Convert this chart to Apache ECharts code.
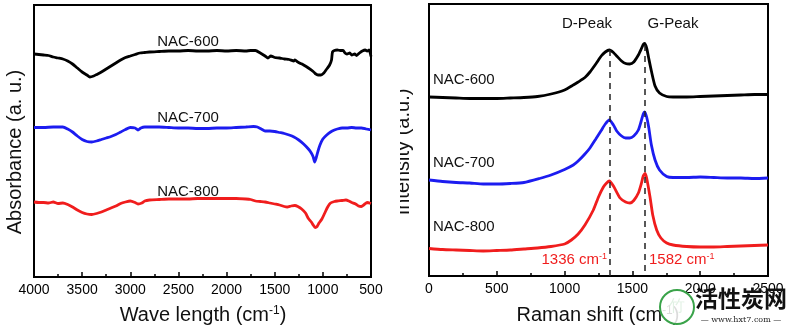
<!DOCTYPE html>
<html>
<head>
<meta charset="utf-8">
<script src="https://cdn.jsdelivr.net/npm/echarts@6/dist/echarts.min.js"></script>
<style>html,body{margin:0;padding:0;background:#fff}#c{width:787px;height:331px}</style>
</head>
<body>
<div id="c"></div>
<script>
// ---------- FTIR (left) : wavenumber (cm-1) and absorbance (a.u., arbitrary offset units)
const ftirWave600 = [4000,3950,3900,3850,3800,3750,3700,3650,3600,3550,3500,3450,3420,3380,3350,3300,3250,3200,3150,3100,3050,3000,2950,2900,2850,2800,2700,2600,2500,2400,2300,2200,2100,2000,1900,1800,1750,1700,1650,1600,1570,1540,1500,1450,1400,1350,1300,1290,1260,1230,1200,1150,1100,1080,1050,1020,990,960,930,910,900,880,850,820,790,770,750,720,700,670,650,620,590,560,540,520,500];
const ftirNAC600 = [223,222.5,222,221.5,220,219,218,216,213,209,205,202,200,201,202.5,205,208,211,214,217,219.5,221,222.5,224,224.5,225,225.5,226,226,226.5,226,226,226.5,226,226.5,226,226.5,226.5,224,221,219,221,219.5,219,218,217.5,216,217,215,213.5,212,209,205.5,203.5,202,202,204,208,212,217,225,226.5,227,226.5,226.5,224,223,224,222,223,221.5,224,226,227,226,227,220.5];

const ftirWave700 = [4000,3900,3800,3700,3650,3600,3550,3500,3450,3400,3350,3300,3250,3200,3150,3100,3050,3000,2950,2920,2890,2850,2800,2700,2600,2500,2400,2300,2200,2100,2000,1900,1800,1720,1680,1640,1600,1550,1500,1450,1400,1350,1300,1250,1200,1150,1120,1100,1085,1070,1050,1030,1000,960,920,880,850,800,750,700,650,600,550,500];
const ftirNAC700 = [149.5,149.5,150,150,148,145,141,137.5,135.5,135,136,137.5,139,140.5,142.5,145,147.5,149.5,149,147,149,150,150,150,149.5,149,149,148.5,148.5,149,149,149.5,150,150.5,150,148,146,146,145.5,144.5,143.5,142,140,137,133,128,124,120,115,119,126,132,138,142,145,147,148,149,149,149.5,149,149,148,147];

const ftirWave800 = [4000,3950,3900,3850,3800,3750,3700,3650,3600,3550,3500,3450,3400,3350,3300,3250,3200,3150,3100,3050,3000,2950,2920,2880,2850,2800,2700,2600,2500,2400,2300,2200,2100,2000,1900,1800,1750,1700,1650,1600,1550,1500,1450,1400,1370,1330,1290,1260,1220,1180,1150,1120,1100,1080,1060,1040,1010,980,950,920,880,850,800,760,730,700,660,630,600,570,540,500];
const ftirNAC800 = [75,74.5,74.5,74,75,73.5,74,72.5,70,67,64.5,63,62.5,63.5,65,67,69,71,73.5,75,76,74.5,73,74,76,77,77.5,78,78,78,78.5,78.5,78.5,78.5,78.5,78,77.5,76,75.5,75,74,73,72,70.5,70,71,71.5,70.5,68,64,58.5,55,52,49.5,50.5,54,58,64,70,74,75.5,76,76.5,77,76,74.5,73,71,70.5,72.5,74.5,73.5];

// ---------- Raman (right) : Raman shift (cm-1) and intensity (a.u., arbitrary offset units)
const ramanShift600 = [0,100,200,300,400,500,600,700,800,900,1000,1064,1100,1150,1187,1230,1270,1300,1330,1360,1384,1420,1450,1480,1510,1544,1565,1580,1590,1605,1620,1640,1667,1700,1753,1800,1900,2000,2100,2200,2300,2400,2500];
const ramanNAC600 = [179,178.5,178,177.5,177.5,177.5,178,178.5,179.5,182,186,191,194,198.5,204,212,220,224,226,223.5,220,215,212.5,212,214,221,227,231.5,232.5,228,218,205,190,183,179.5,179,179,179.5,180,180.5,181,181.5,181.5];

const ramanShift700 = [0,100,200,300,400,500,600,700,815,900,1000,1064,1100,1150,1187,1230,1270,1300,1330,1360,1384,1420,1450,1480,1510,1544,1565,1580,1590,1605,1620,1640,1667,1700,1753,1800,1900,2000,2100,2200,2300,2400,2500];
const ramanNAC700 = [96,94.5,93.5,93,92,92,92.5,93.5,97.5,101,106.5,111,115,122,128,137,145.5,152,156,151,145,140,138,138,140,146,155,162,164,159,149,131,116,106,99.5,98.5,98.5,99,98.5,98,98,97.5,98];

const ramanShift800 = [0,100,200,300,400,500,600,700,800,900,1000,1050,1100,1150,1212,1250,1286,1310,1330,1360,1409,1450,1482,1510,1544,1565,1580,1593,1605,1630,1650,1679,1710,1753,1800,1900,2000,2100,2200,2300,2400,2500];
const ramanNAC800 = [27.5,26.5,26,25.5,25,25.5,26,27,28,29.5,32,36,42,51,66,79,89,93,95,90,78,74,73,75.5,83,92,100,102.5,98,79,61,46,38,33,31,29.5,29,29,29.5,30,30.5,31];

// ---------- annotations
const ftirLabels = ['NAC-600','NAC-700','NAC-800'];
const ramanLabels = ['NAC-600','NAC-700','NAC-800'];
const peakNames = ['D-Peak','G-Peak'];
const peakPositions = [1336, 1590];
const peakTexts = ['1336 cm', '1582 cm'];

const zip = (xs, ys) => xs.map((x, i) => [x, ys[i]]);
const BLACK = '#000000', BLUE = '#1c1cf0', RED = '#f01d1d';
const FONT = 'Liberation Sans, Arial, sans-serif';

const chart = echarts.init(document.getElementById('c'), null, {renderer: 'canvas'});

function xAxisCfg(gridIndex, min, max, inverse) {
  return {
    type: 'value', gridIndex, min, max, interval: 500, inverse,
    axisLine: {show: true, onZero: false, lineStyle: {color: '#000', width: 2}},
    axisTick: {show: true, inside: true, length: 5, lineStyle: {color: '#000', width: 1.5}},
    minorTick: {show: true, splitNumber: 2, length: 3, lineStyle: {color: '#000', width: 1.5}},
    axisLabel: {color: '#000', fontSize: 14, fontFamily: FONT, margin: 6, showMinLabel: true, showMaxLabel: true,
      formatter: v => String(v)},
    splitLine: {show: false}
  };
}
function yAxisCfg(gridIndex) {
  return {
    type: 'value', gridIndex, min: 0, max: 272,
    axisLine: {show: true, lineStyle: {color: '#000', width: 2}},
    axisTick: {show: false}, axisLabel: {show: false}, splitLine: {show: false}
  };
}
function lineSeries(xi, data, color) {
  return {type: 'line', xAxisIndex: xi, yAxisIndex: xi, data, showSymbol: false, symbol: 'none',
    smooth: 0.2, lineStyle: {color, width: 2.8}, animation: false, z: 3};
}
function txt(x, y, text, color, size, align) {
  return {type: 'text', x, y, z: 10, style: {text, fill: color, font: size + 'px ' + FONT,
    textAlign: align || 'center', textVerticalAlign: 'middle'}};
}
function supTxt(x, y, main, color, size, tail, align) {
  return {type: 'text', x, y, z: 10, style: {
    text: '{a|' + main + '}{s|-1}' + (tail ? '{a|' + tail + '}' : ''),
    align: align || 'center', verticalAlign: 'middle',
    rich: {a: {fontSize: size, fontFamily: FONT, fill: color, color: color},
           s: {fontSize: Math.round(size * 0.6), fontFamily: FONT, fill: color, color: color, verticalAlign: 'top'}}
  }};
}

const dashed = {
  silent: true, symbol: 'none', animation: false,
  lineStyle: {color: '#222', type: [6, 5], width: 1.5},
  label: {show: false},
  data: [
    [{coord: [peakPositions[0], 226]}, {coord: [peakPositions[0], 0]}],
    [{coord: [peakPositions[1], 231]}, {coord: [peakPositions[1], 0]}]
  ]
};

const s600r = lineSeries(1, zip(ramanShift600, ramanNAC600), BLACK);
s600r.markLine = dashed;

chart.setOption({
  backgroundColor: '#fff',
  animation: false,
  grid: [
    {left: 34, top: 5, width: 337, height: 272, show: true, borderColor: '#000', borderWidth: 2, backgroundColor: 'transparent'},
    {left: 429, top: 4, width: 339, height: 272, show: true, borderColor: '#000', borderWidth: 2, backgroundColor: 'transparent'}
  ],
  xAxis: [xAxisCfg(0, 500, 4000, true), xAxisCfg(1, 0, 2500, false)],
  yAxis: [yAxisCfg(0), yAxisCfg(1)],
  series: [
    lineSeries(0, zip(ftirWave600, ftirNAC600), BLACK),
    lineSeries(0, zip(ftirWave700, ftirNAC700), BLUE),
    lineSeries(0, zip(ftirWave800, ftirNAC800), RED),
    s600r,
    lineSeries(1, zip(ramanShift700, ramanNAC700), BLUE),
    lineSeries(1, zip(ramanShift800, ramanNAC800), RED)
  ],
  graphic: [
    txt(188, 42, ftirLabels[0], '#111', 15),
    txt(188, 118, ftirLabels[1], '#111', 15),
    txt(188, 192, ftirLabels[2], '#111', 15),
    txt(433, 80, ramanLabels[0], '#111', 15, 'left'),
    txt(433, 163, ramanLabels[1], '#111', 15, 'left'),
    txt(433, 227, ramanLabels[2], '#111', 15, 'left'),
    txt(587, 24, peakNames[0], '#111', 15),
    txt(673, 24, peakNames[1], '#111', 15),
    supTxt(607, 260, peakTexts[0], RED, 15, '', 'right'),
    supTxt(649, 260, peakTexts[1], RED, 15, '', 'left'),
    supTxt(203, 315, 'Wave length (cm', '#111', 20, ')'),
    supTxt(598, 315, 'Raman shift (cm', '#111', 20, ')'),
    {type: 'text', x: 15, y: 152, rotation: Math.PI / 2, z: 10,
      style: {text: 'Absorbance (a. u.)', fill: '#111', font: '20px ' + FONT, textAlign: 'center', textVerticalAlign: 'middle'}},
    {type: 'text', x: 403, y: 152, rotation: Math.PI / 2, z: 10,
      style: {text: 'Intensity (a.u.)', fill: '#111', font: '20px ' + FONT, textAlign: 'center', textVerticalAlign: 'middle'}},
    {type: 'rect', shape: {x: 386, y: 0, width: 14, height: 282}, z: 11, style: {fill: '#fff'}},
    // watermark
    {type: 'circle', shape: {cx: 677, cy: 307, r: 17}, z: 12, style: {fill: 'rgba(255,255,255,0.85)', stroke: '#3aa34a', lineWidth: 2}},
    txt(677, 307, '竹', '#3aa34a', 16),
    {type: 'text', x: 741, y: 298, z: 12, style: {text: '活性炭网', fill: '#111', font: 'bold 23px "Noto Sans CJK SC"', textAlign: 'center', textVerticalAlign: 'middle'}},
    {type: 'text', x: 741, y: 320, z: 12, style: {text: '— www.hxt7.com —', fill: '#222', font: '8px "DejaVu Serif"', textAlign: 'center', textVerticalAlign: 'middle'}}
  ]
});
</script>
</body>
</html>
